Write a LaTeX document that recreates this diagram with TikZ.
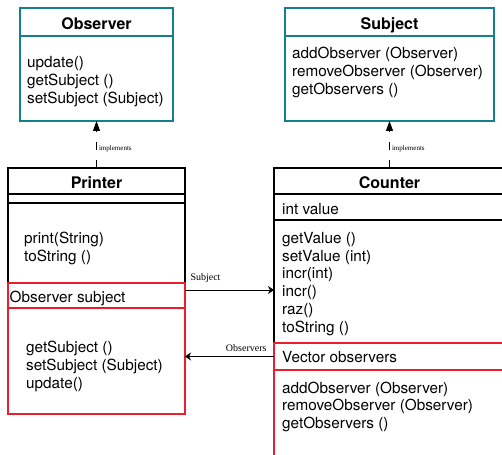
\documentclass[tikz,border=0pt]{standalone}
\usepackage{fontspec}
\setmainfont{TeX Gyre Heros}
\newfontfamily\tagfont{Liberation Serif}
\usetikzlibrary{arrows.meta}
\definecolor{umlteal}{RGB}{20,128,140}
\definecolor{umlred}{RGB}{232,30,44}
\tikzset{
	compart/.style={draw, rectangle, anchor=north west, inner sep=0pt, outer sep=0pt, line width=1.3pt},
	classname/.style={font=\fontsize{16pt}{18pt}\selectfont\bfseries, text height=16pt, text depth=0pt},
	members/.style={anchor=north west, inner sep=0pt, align=left, font=\fontsize{15.3pt}{17.8pt}\selectfont},
	titlesep/.style={line width=2.2pt},
	implements/.style={line width=1pt, dash pattern=on 8pt off 10pt, -{Triangle[length=10pt,width=7pt]}},
	assoc/.style={line width=1pt, -{Stealth[length=6pt,width=8pt,inset=2pt]}},
	tag/.style={inner sep=0pt, font=\tagfont\fontsize{10pt}{12pt}\selectfont},
	smalltag/.style={inner sep=0pt, font=\tagfont\fontsize{7pt}{8pt}\selectfont},
}

\begin{document}
\begin{tikzpicture}[x=1pt, y=-1pt]
	%%%%% START %%%%%
	\useasboundingbox (0,0) rectangle (502,454);
	
	% Observer
	\node[compart, classname, draw=umlteal, minimum width=153pt, minimum height=28pt] (observer-title) at (20,8) {Observer};
	\node[compart, draw=umlteal, minimum width=153pt, minimum height=85pt] (observer-ops) at (20,36) {};
	\draw[titlesep, umlteal] (observer-title.south west) -- (observer-title.south east);
	\node[members] (observer-ops-list) at (27,56.5) {update()\\getSubject ()\\setSubject (Subject)};
	
	% Subject
	\node[compart, classname, draw=umlteal, minimum width=209pt, minimum height=28pt] (subject-title) at (285,8) {Subject};
	\node[compart, draw=umlteal, minimum width=209pt, minimum height=85pt] (subject-ops) at (285,36) {};
	\draw[titlesep, umlteal] (subject-title.south west) -- (subject-title.south east);
	\node[members] (subject-ops-list) at (292,47) {addObserver (Observer)\\removeObserver (Observer)\\getObservers ()};
	
	% Printer
	\node[compart, classname, minimum width=177pt, minimum height=26pt] (printer-title) at (8,168) {Printer};
	\node[compart, minimum width=177pt, minimum height=9pt] (printer-attr) at (8,194) {};
	\node[compart, minimum width=177pt, minimum height=80pt] (printer-ops) at (8,203) {};
	\node[compart, draw=umlred, minimum width=177pt, minimum height=25pt] (printer-subj) at (8,283) {};
	\node[compart, draw=umlred, minimum width=177pt, minimum height=106pt] (printer-obsops) at (8,308) {};
	\draw[titlesep] (printer-title.south west) -- (printer-title.south east);
	\draw[titlesep] (printer-attr.south west) -- (printer-attr.south east);
	\node[members] (printer-ops-list) at (24,232) {print(String)\\toString ()};
	\node[members] (printer-subj-text) at (9.5,290.5) {Observer subject};
	\node[members] (printer-obsops-list) at (26,341) {getSubject ()\\setSubject (Subject)\\update()};
	
	% Counter
	\node[compart, classname, minimum width=231pt, minimum height=26pt] (counter-title) at (274,168) {Counter};
	\node[compart, minimum width=231pt, minimum height=26pt] (counter-attr) at (274,194) {};
	\node[compart, minimum width=231pt, minimum height=123pt] (counter-ops) at (274,220) {};
	\node[compart, draw=umlred, minimum width=231pt, minimum height=27pt] (counter-vec) at (274,343) {};
	\node[compart, draw=umlred, minimum width=231pt, minimum height=110pt] (counter-lower) at (274,370) {};
	\draw[titlesep] (counter-title.south west) -- (counter-title.south east);
	\node[members] (counter-attr-text) at (282,203.5) {int value};
	\node[members] (counter-ops-list) at (282,232) {getValue ()\\setValue (int)\\incr(int)\\incr()\\raz()\\toString ()};
	\node[members] (counter-vec-text) at (282,351.5) {Vector observers};
	\node[members] (counter-lower-list) at (282,381.5) {addObserver (Observer)\\removeObserver (Observer)\\getObservers ()};
	
	% links
	\draw[implements] (printer-title.north) -- (observer-ops.south) node[smalltag, pos=0.38, anchor=base west, xshift=2pt] {implements};
	\draw[implements] (counter-title.north) -- (subject-ops.south) node[smalltag, pos=0.38, anchor=base west, xshift=2pt] {implements};
	
	\coordinate (subject-link) at ([yshift=5.5pt]printer-subj.east);
	\draw[assoc] (subject-link) -- (subject-link -| counter-ops.west) node[tag, pos=0, anchor=base west, xshift=5pt, yshift=10pt] {Subject};
	\draw[assoc] (counter-vec.west) -- (counter-vec.west -| printer-obsops.east) node[tag, pos=0, anchor=base east, xshift=-7pt, yshift=5pt] {Observers};
	
	%%%%% END %%%%%
\end{tikzpicture}
\end{document}
